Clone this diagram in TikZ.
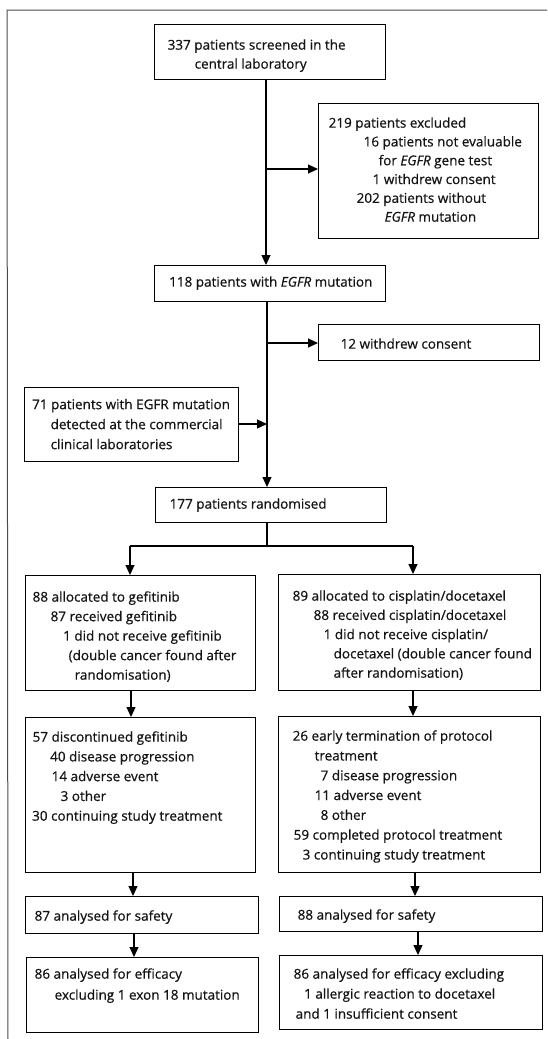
\documentclass[tikz,border=0pt]{standalone}
\usepackage{fontspec}
\setmainfont{Open Sans}[FakeBold=0.6, ItalicFeatures={FakeBold=0.6}]
\usetikzlibrary{arrows.meta}
\newcommand\bxt[5]{\parbox[t][#2pt][t]{#1pt}{\vspace*{#3pt}\baselineskip=#4pt\relax\raggedright\rule{0pt}{13pt}#5}}
\newcommand\eg{\textit{EGFR}}
\tikzset{
  box/.style={draw, line width=1.3pt, inner sep=0pt, anchor=north west,
    font=\fontsize{13.5pt}{19pt}\selectfont, text=black!92},
  arr/.style={-{Triangle[length=10pt,width=9pt]}, line width=1.2pt},
  conn/.style={line width=1.2pt},
  frame/.style={line width=1pt, black!70}
}
\begin{document}
\begin{tikzpicture}[x=1pt,y=1pt]
\useasboundingbox (0,0) rectangle (547,-1039);
% frame
\coordinate (fTL) at (7,-10);
\coordinate (fTR) at (547,-10);
\coordinate (fBL) at (8,-1039);
\draw[frame] (fTR) -- (fTL) -- (fBL);

\node[box] (b1) at (154,-24) {\bxt{231}{55}{12}{19}{%
\hspace*{13pt}337 patients screened in the\\
\hspace*{40pt}central laboratory}};

\node[box] (b2) at (318,-103) {\bxt{220}{135}{11}{18.8}{%
\hspace*{10pt}219 patients excluded\\
\hspace*{45pt}\mbox{16 patients not evaluable}\\
\hspace*{60pt}for \eg{} gene test\\
\hspace*{54pt}1 withdrew consent\\
\hspace*{38pt}202 patients without\\
\hspace*{66pt}\eg{} mutation}};

\node[box] (b3) at (154,-265) {\bxt{231}{36}{8}{19}{%
\hspace*{14.5pt}118 patients with \eg{} mutation}};

\node[box] (b4) at (318,-324) {\bxt{221}{36}{11}{19}{%
\hspace*{22pt}12 withdrew consent}};

\node[box] (b5) at (24,-387) {\bxt{213.6}{74}{8.5}{20}{%
\hspace*{7.5pt}\mbox{71 patients with EGFR mutation}\\
\hspace*{26pt}\mbox{detected at the commercial}\\
\hspace*{26pt}clinical laboratories}};

\node[box] (b6) at (154.6,-487) {\bxt{231}{35}{8}{19}{%
\hspace*{14.4pt}177 patients randomised}};

\node[box] (b7) at (25,-575) {\bxt{230}{115}{13}{19.5}{%
\hspace*{7pt}88 allocated to gefitinib\\
\hspace*{25pt}87 received gefitinib\\
\hspace*{37.5pt}\mbox{1 did not receive gefitinib}\\
\hspace*{43pt}\mbox{(double cancer found after}\\
\hspace*{49pt}randomisation)}};

\node[box] (b8) at (277.5,-574) {\bxt{262.5}{116}{13}{19.25}{%
\hspace*{14.5pt}\mbox{89 allocated to cisplatin/docetaxel}\\
\hspace*{35.5pt}\mbox{88 received cisplatin/docetaxel}\\
\hspace*{45.5pt}1 did not receive cisplatin/\\
\hspace*{55.5pt}\mbox{docetaxel (double cancer found}\\
\hspace*{55.5pt}after randomisation)}};

\node[box] (b9) at (25,-717) {\bxt{230}{155}{11}{19.75}{%
\hspace*{7pt}57 discontinued gefitinib\\
\hspace*{24.5pt}40 disease progression\\
\hspace*{26pt}14 adverse event\\
\hspace*{35pt}3 other\\
\hspace*{6.5pt}\mbox{30 continuing study treatment}}};

\node[box] (b10) at (277.5,-716) {\bxt{262.5}{156}{11}{19.8}{%
\hspace*{14.5pt}\mbox{26 early termination of protocol}\\
\hspace*{36.5pt}treatment\\
\hspace*{42.5pt}7 disease progression\\
\hspace*{36.5pt}11 adverse event\\
\hspace*{42.5pt}8 other\\
\hspace*{15.5pt}\mbox{59 completed protocol treatment}\\
\hspace*{24.5pt}\mbox{3 continuing study treatment}}};

\node[box] (b11) at (25,-896) {\bxt{233}{37}{11}{19}{%
\hspace*{9pt}87 analysed for safety}};

\node[box] (b12) at (279,-896) {\bxt{263}{35}{10}{19}{%
\hspace*{18pt}88 analysed for safety}};

\node[box] (b13) at (26,-957) {\bxt{232}{75}{8}{21}{%
\hspace*{8pt}86 analysed for efficacy\\
\hspace*{28pt}\mbox{excluding 1 exon 18 mutation}}};

\node[box] (b14) at (279,-955) {\bxt{263}{74}{10}{20}{%
\hspace*{14pt}\mbox{86 analysed for efficacy excluding}\\
\hspace*{24.5pt}\mbox{1 allergic reaction to docetaxel}\\
\hspace*{16pt}and 1 insufficient consent}};

% connectors
\coordinate (m1) at (266,-169);
\coordinate (m2) at (267,-343);
\coordinate (m3) at (267,-424);
\draw[arr] (b1.south -| m1) -- (b3.north -| m1);
\draw[arr] (m1) -- (m1 -| b2.west);
\draw[arr] (b3.south -| m2) -- (b6.north -| m2);
\draw[arr] (m2) -- (m2 -| b4.west);
\draw[arr] (b5.east |- m3) -- (m3);

\coordinate (sp) at (267,-546);
\coordinate (spL) at (130,-546);
\coordinate (spR) at (413,-546);
\draw[conn] (b6.south -| sp) -- (sp);
\draw[conn] (spL) -- (spR);
\draw[arr] (spL) -- (b7.north -| spL);
\draw[arr] (spR) -- (b8.north -| spR);

\coordinate (cL1) at (131,0);
\coordinate (cL2) at (133,0);
\coordinate (cL3) at (134,0);
\coordinate (cR1) at (413,0);
\coordinate (cR2) at (415,0);
\coordinate (cR3) at (418,0);
\draw[arr] (b7.south -| cL1) -- (b9.north -| cL1);
\draw[arr] (b9.south -| cL2) -- (b11.north -| cL2);
\draw[arr] (b11.south -| cL3) -- (b13.north -| cL3);
\draw[arr] (b8.south -| cR1) -- (b10.north -| cR1);
\draw[arr] (b10.south -| cR2) -- (b12.north -| cR2);
\draw[arr] (b12.south -| cR3) -- (b14.north -| cR3);
\end{tikzpicture}
\end{document}
